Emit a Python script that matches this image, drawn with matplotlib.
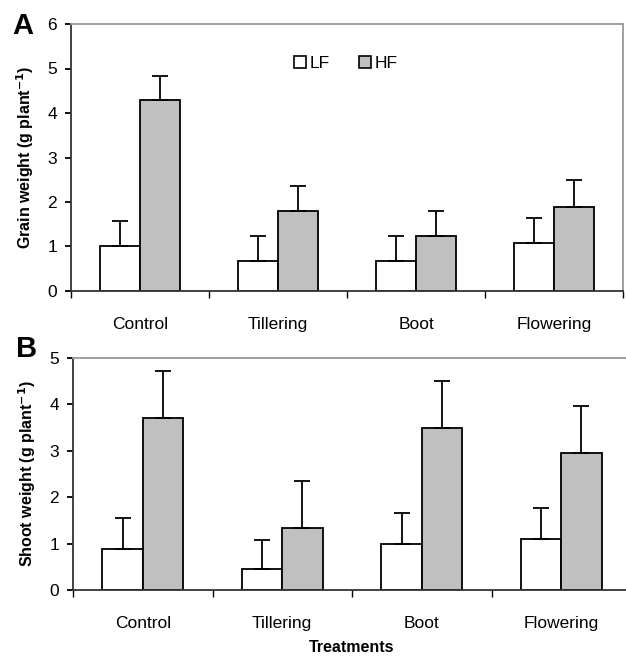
import numpy as np
import matplotlib
matplotlib.use("Agg")
import matplotlib.pyplot as plt
from matplotlib.lines import Line2D

plt.rcParams['font.family'] = ['Liberation Sans', 'DejaVu Sans']

treatments = ['Control', 'Tillering', 'Boot', 'Flowering']

# Panel A: grain weight
grain_lf = [1.01, 0.68, 0.68, 1.07]
grain_lf_err = [0.57, 0.56, 0.56, 0.56]
grain_hf = [4.29, 1.80, 1.24, 1.89]
grain_hf_err = [0.54, 0.56, 0.56, 0.60]

# Panel B: shoot weight
shoot_lf = [0.89, 0.45, 0.98, 1.10]
shoot_lf_err = [0.66, 0.63, 0.67, 0.67]
shoot_hf = [3.70, 1.33, 3.48, 2.95]
shoot_hf_err = [1.01, 1.01, 1.02, 1.01]

fig = plt.figure(figsize=(6.26, 6.57), dpi=100)
axA = fig.add_axes([71/626, 1 - 291/657, 552/626, 267/657])
axB = fig.add_axes([73/626, 1 - 590/657, 558/626, 232.3/657])

x = np.arange(len(treatments))
w = 0.29


def draw(ax, lf, lf_err, hf, hf_err, ymax, ylabel):
    ax.bar(x - w/2, lf, w, color='white', edgecolor='black', linewidth=1.3,
           yerr=[np.zeros(4), lf_err], error_kw=dict(ecolor='black', elinewidth=1.3, capsize=5.5, capthick=1.3))
    ax.bar(x + w/2, hf, w, color='#c0c0c0', edgecolor='black', linewidth=1.3,
           yerr=[np.zeros(4), hf_err], error_kw=dict(ecolor='black', elinewidth=1.3, capsize=5.5, capthick=1.3))
    ax.set_xlim(-0.5, 3.5)
    ax.set_ylim(0, ymax)
    ax.set_yticks(range(ymax + 1))
    ax.set_xticks(x)
    ax.set_xticklabels(treatments)
    ax.set_xticks(np.arange(-0.5, 4.0, 1.0), minor=True)
    ax.tick_params(axis='x', which='major', length=0, pad=19, labelsize=12.5)
    ax.tick_params(axis='x', which='minor', length=5, width=1, direction='out')
    ax.tick_params(axis='y', length=4, width=1.3, pad=6, labelsize=12.5)
    for s in ['left', 'bottom']:
        ax.spines[s].set_color('#333333')
        ax.spines[s].set_linewidth(1.3)
    for s in ['top', 'right']:
        ax.spines[s].set_color('#999999')
        ax.spines[s].set_linewidth(1.3)
    ax.set_ylabel(ylabel, fontsize=11.5, fontweight='bold', labelpad=8)


draw(axA, grain_lf, grain_lf_err, grain_hf, grain_hf_err, 6, r'Grain weight (g plant$^{\mathbf{-1}}$)')
draw(axB, shoot_lf, shoot_lf_err, shoot_hf, shoot_hf_err, 5, r'Shoot weight (g plant$^{\mathbf{-1}}$)')

axB.set_xlabel('Treatments', fontsize=11.5, fontweight='bold', labelpad=6)

handles = [Line2D([], [], marker='s', linestyle='none', markersize=8, markerfacecolor='white',
                  markeredgecolor='black', markeredgewidth=1.2),
           Line2D([], [], marker='s', linestyle='none', markersize=8, markerfacecolor='#c0c0c0',
                  markeredgecolor='black', markeredgewidth=1.2)]
axA.legend(handles, ['LF', 'HF'], loc='upper center', bbox_to_anchor=(0.497, 0.94), ncol=2,
           frameon=False, fontsize=12.5, handletextpad=0.15, columnspacing=1.6, handlelength=0.8)

fig.text(12/626, 1 - 34/657, 'A', fontsize=21, fontweight='bold', va='baseline')
fig.text(16/626, 1 - 357/657, 'B', fontsize=21, fontweight='bold', va='baseline')

fig.savefig('out.png', dpi=100)
